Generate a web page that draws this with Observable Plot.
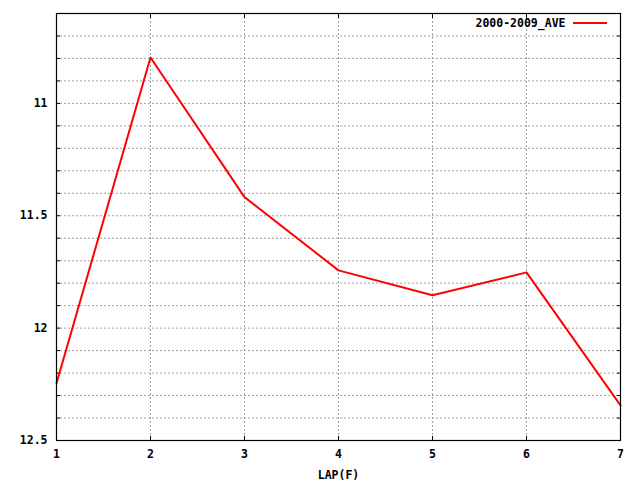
<!DOCTYPE html>
<html><head><meta charset="utf-8">
<script src="https://cdn.jsdelivr.net/npm/d3@7"></script>
<script src="https://cdn.jsdelivr.net/npm/@observablehq/plot@0.6"></script>
<style>body{margin:0;background:#fff} svg{display:block}</style>
</head><body><div id="chart"></div>
<script>
const laps = [1, 2, 3, 4, 5, 6, 7];
const aveTimes = [12.245, 10.796, 11.417, 11.743, 11.854, 11.752, 12.344];
const seriesName = "2000-2009_AVE";
const xLabel = "LAP(F)";
const yLabelTicks = [11, 11.5, 12, 12.5];
const yMinorTicks = [10.7, 10.8, 10.9, 11, 11.1, 11.2, 11.3, 11.4, 11.5, 11.6, 11.7, 11.8, 11.9, 12, 12.1, 12.2, 12.3, 12.4];
const xTicks = [1, 2, 3, 4, 5, 6, 7];
const xInnerTicks = [2, 3, 4, 5, 6];

const data = laps.map((lap, i) => ({lap, time: aveTimes[i]}));
const gridStyle = {stroke: "#a0a0a0", strokeOpacity: 1, strokeDasharray: "2,2", strokeWidth: 1};

const chart = Plot.plot({
  width: 640, height: 480,
  marginLeft: 56, marginRight: 20, marginTop: 13, marginBottom: 40,
  style: {fontFamily: "DejaVu Sans Mono", fontSize: "11.5px", fontWeight: "bold", color: "#000", background: "#fff"},
  x: {domain: [1, 7]},
  y: {domain: [10.6, 12.5], reverse: true},
  marks: [
    Plot.gridX(xInnerTicks, gridStyle),
    Plot.gridY(yMinorTicks, gridStyle),
    Plot.axisY(yLabelTicks, {anchor: "left", tickSize: 0, tickPadding: 9, label: null, tickFormat: d => String(d)}),
    Plot.axisY(yMinorTicks, {anchor: "left", tickSize: -4, text: null, label: null, strokeWidth: 1}),
    Plot.axisY(yMinorTicks, {anchor: "right", tickSize: -4, text: null, label: null, strokeWidth: 1}),
    Plot.axisX(xTicks, {anchor: "bottom", tickSize: 0, tickPadding: 9, label: xLabel, labelAnchor: "center", labelOffset: 38, labelArrow: "none", tickFormat: d => String(d)}),
    Plot.axisX(xInnerTicks, {anchor: "bottom", tickSize: -4, text: null, label: null}),
    Plot.axisX(xInnerTicks, {anchor: "top", tickSize: -4, text: null, label: null}),
    Plot.line(data, {x: "lap", y: "time", stroke: "#ff0000", strokeWidth: 2}),
    Plot.frame({stroke: "#000", strokeWidth: 1.2}),
    Plot.text([seriesName], {frameAnchor: "top-right", dx: -55, dy: 10, textAnchor: "end", lineAnchor: "middle", fill: "#000"})
  ]
});
document.getElementById("chart").append(chart);
// legend sample line
d3.select(chart).append("line")
  .attr("x1", 573).attr("x2", 607).attr("y1", 23).attr("y2", 23)
  .attr("stroke", "#ff0000").attr("stroke-width", 2);
</script>
</body></html>
